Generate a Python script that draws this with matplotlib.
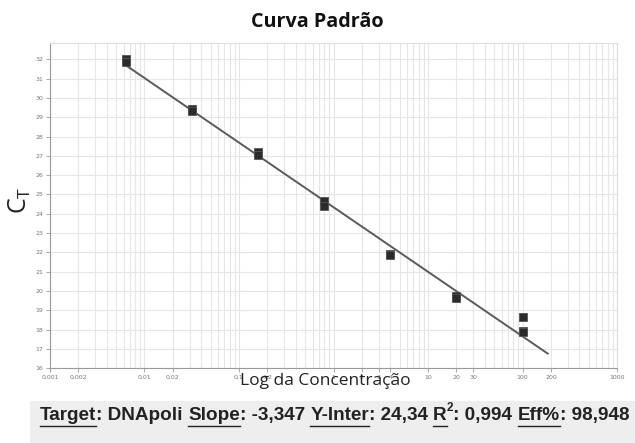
import numpy as np
import matplotlib
matplotlib.use("Agg")
import matplotlib.pyplot as plt
from matplotlib.ticker import FixedLocator, FixedFormatter, LogLocator, NullFormatter
from matplotlib.patches import Rectangle
from matplotlib.lines import Line2D

# === Data: 5-fold dilution series, two replicates each ===
conc = [0.0064, 0.0064, 0.032, 0.032, 0.16, 0.16, 0.8, 0.8, 4, 4, 20, 20, 100, 100, 100]
ct = [32.0, 31.85, 29.45, 29.3, 27.18, 27.06, 24.64, 24.42, 21.92, 21.86, 19.75, 19.65, 18.67, 17.95, 17.86]

slope = -3.347
y_inter = 24.34
r2 = 0.994
eff = 98.948
fit_range = [0.0064, 185]

xtick_vals = [0.001, 0.002, 0.01, 0.02, 0.1, 0.2, 1, 2, 3, 4, 10, 20, 30, 100, 200, 1000]
xtick_labels = ["0,001", "0,002", "0,01", "0,02", "0,1", "0,2", "1", "2", "3", "4",
                "10", "20", "30", "100", "200", "1000"]
ytick_vals = list(range(16, 33))

fig = plt.figure(figsize=(6.35, 4.43), dpi=100)
ax = fig.add_axes([0.0787, 0.169, 0.893, 0.734])

# grid
ax.set_xscale("log")
ax.set_xlim(0.001, 1000)
ax.set_ylim(16, 32.85)
ax.xaxis.set_major_locator(FixedLocator(xtick_vals))
ax.xaxis.set_major_formatter(FixedFormatter(xtick_labels))
ax.xaxis.set_minor_locator(LogLocator(base=10, subs=np.arange(2, 10)))
ax.xaxis.set_minor_formatter(NullFormatter())
ax.set_yticks(ytick_vals)
ax.grid(True, which="both", axis="x", color="#e6e6e6", lw=0.8)
ax.grid(True, which="major", axis="y", color="#e6e6e6", lw=0.8)
ax.set_axisbelow(True)
ax.tick_params(axis="both", which="major", labelsize=4.5, labelcolor="#777777",
               color="#999999", length=3, width=0.6, pad=2)
ax.tick_params(axis="x", which="minor", length=0)
for side in ["top", "right"]:
    ax.spines[side].set_color("#dddddd")
for side in ["left", "bottom"]:
    ax.spines[side].set_color("#9a9a9a")
for s in ax.spines.values():
    s.set_linewidth(0.8)

# regression line from slope and intercept
xf = np.logspace(np.log10(fit_range[0]), np.log10(fit_range[1]), 50)
ax.plot(xf, slope * np.log10(xf) + y_inter, color="#5a5a5a", lw=1.4, zorder=2)

# replicate points
ax.scatter(conc, ct, marker="s", s=34, color="#2b2b2b", edgecolor="#555555",
           linewidth=0.6, zorder=3)

fig.text(0.5, 0.95, "Curva Padrão", ha="center", va="center",
         fontsize=14.2, fontweight="bold", family="Open Sans", color="#111111")
fig.text(0.032, 0.548, "C$_\\mathregular{T}$", ha="center", va="center",
         rotation=90, fontsize=18, family="Open Sans", color="#222222")
fig.text(0.513, 0.139, "Log da Concentração", ha="center", va="center",
         fontsize=12.5, family="Open Sans", color="#222222")

# footer with underlined labels
fig.patches.append(Rectangle((0.048, 0.0), 0.952, 0.094, transform=fig.transFigure,
                             facecolor="#eeeeee", edgecolor="none", zorder=0))
pieces = [("Target", "u"), (": DNApoli ", ""), ("Slope", "u"), (": -3,347 ", ""),
          ("Y-Inter", "u"), (": 24,34 ", ""), ("R", "u"), ("2", "sup"),
          (": 0,994 ", ""), ("Eff%", "u"), (": 98,948", "")]
footer_font = dict(family="Liberation Sans", fontweight="bold", color="#222222")
renderer = fig.canvas.get_renderer()
x0 = 40 / 635
ybase = 0.051
for txt, kind in pieces:
    size = 8.5 if kind == "sup" else 13.6
    yy = ybase + (0.021 if kind == "sup" else 0)
    t = fig.text(x0, yy, txt.replace(" ", "\u00a0"), ha="left", va="baseline",
                 fontsize=size, **footer_font)
    bb = t.get_window_extent(renderer).transformed(fig.transFigure.inverted())
    if kind == "u":
        fig.lines.append(Line2D([bb.x0, bb.x1], [ybase - 0.012] * 2,
                                transform=fig.transFigure, color="#222222", lw=1.0))
    x0 = bb.x1

fig.savefig("out.png", dpi=100)
